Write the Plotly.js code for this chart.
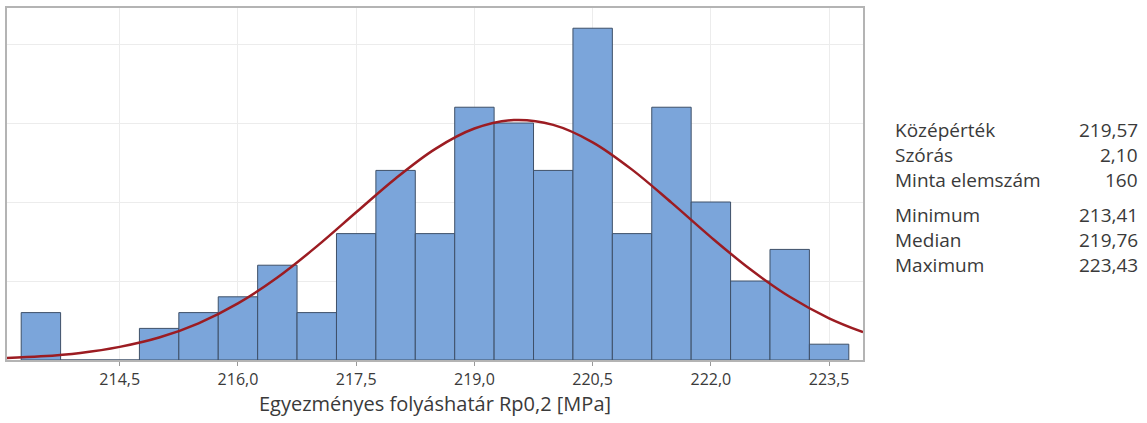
<!DOCTYPE html>
<html>
<head>
<meta charset="utf-8">
<script src="https://cdn.plot.ly/plotly-3.0.1.min.js"></script>
<style>html,body{margin:0;padding:0;background:#fff;}#chart{width:1147px;height:423px;}</style>
</head>
<body>
<div id="chart"></div>
<script>
// Histogram bins (centers, MPa) and counts
const binCenters = [213.5,214.0,214.5,215.0,215.5,216.0,216.5,217.0,217.5,218.0,218.5,219.0,219.5,220.0,220.5,221.0,221.5,222.0,222.5,223.0,223.5];
const binCounts  = [3,0,0,2,3,4,6,3,8,12,8,16,15,12,21,8,16,10,5,7,1];

// Fitted normal curve
const curveX = [213.07,213.5,214.0,214.5,215.0,215.5,216.0,216.5,217.0,217.5,218.0,218.5,219.0,219.5,220.0,220.5,221.0,221.5,222.0,222.5,223.0,223.5,223.93];
const curveY = [0.13,0.23,0.45,0.83,1.42,2.32,3.58,5.22,7.19,9.35,11.49,13.35,14.65,15.19,14.88,13.78,12.05,9.96,7.78,5.74,4.00,2.64,1.76];

// Axis ticks
const tickValues = [214.5,216.0,217.5,219.0,220.5,222.0,223.5];
const tickLabels = ["214,5","216,0","217,5","219,0","220,5","222,0","223,5"];

// Summary statistics
const statLabels = ["Középérték","Szórás","Minta elemszám","Minimum","Median","Maximum"];
const statValues = ["219,57","2,10","160","213,41","219,76","223,43"];

const xTitle = "Egyezményes folyáshatár Rp0,2 [MPa]";

const textColor = '#3a3a3a';
const fontFam = 'Open Sans, sans-serif';

const traces = [
  {
    type: 'bar', x: binCenters, y: binCounts, width: 0.5,
    marker: {color: '#7ba5da', line: {color: '#3e5068', width: 1}},
    hoverinfo: 'x+y', showlegend: false
  },
  {
    type: 'scatter', mode: 'lines', x: curveX, y: curveY,
    line: {color: '#9c1c22', width: 2.5, shape: 'spline', smoothing: 1},
    showlegend: false, hoverinfo: 'skip'
  }
];

const statRowsY = [130,155,180,215,240,265];
const plotTop = 8, plotBottom = 360, plotLeft = 7, plotRight = 863;
const annotations = [];
statLabels.forEach((lab, i) => {
  const yp = (plotBottom - statRowsY[i]) / (plotBottom - plotTop);
  annotations.push({xref:'paper', yref:'paper', x:(893-plotLeft)/(plotRight-plotLeft), y:yp,
    xanchor:'left', yanchor:'middle', text: lab, showarrow:false,
    font:{family:fontFam, size:19, color:textColor}});
  annotations.push({xref:'paper', yref:'paper', x:(1140-plotLeft)/(plotRight-plotLeft), y:yp,
    xanchor:'right', yanchor:'middle', text: statValues[i], showarrow:false,
    font:{family:fontFam, size:19, color:textColor}});
});

const layout = {
  width: 1147, height: 423,
  margin: {l: plotLeft, r: 1147 - plotRight, t: plotTop, b: 423 - plotBottom},
  paper_bgcolor: '#fff', plot_bgcolor: '#fff',
  bargap: 0,
  separators: ', ',
  xaxis: {
    range: [213.07, 223.93],
    tickvals: tickValues, ticktext: tickLabels,
    ticks: 'outside', ticklen: 4, tickcolor: '#999',
    showgrid: true, gridcolor: '#ececec', gridwidth: 1,
    showline: true, linecolor: '#b4b4b4', linewidth: 2, mirror: true,
    zeroline: false,
    tickfont: {family: fontFam, size: 16, color: textColor},
    title: {text: xTitle, standoff: 8, font: {family: fontFam, size: 20, color: textColor}}
  },
  yaxis: {
    range: [0, 22.28],
    tickvals: [5,10,15,20],
    showticklabels: false, ticks: '',
    showgrid: true, gridcolor: '#ececec', gridwidth: 1,
    showline: true, linecolor: '#b4b4b4', linewidth: 2, mirror: true,
    zeroline: false
  },
  annotations: annotations,
  font: {family: fontFam}
};

Plotly.newPlot('chart', traces, layout, {displayModeBar: false, staticPlot: true});
</script>
</body>
</html>
